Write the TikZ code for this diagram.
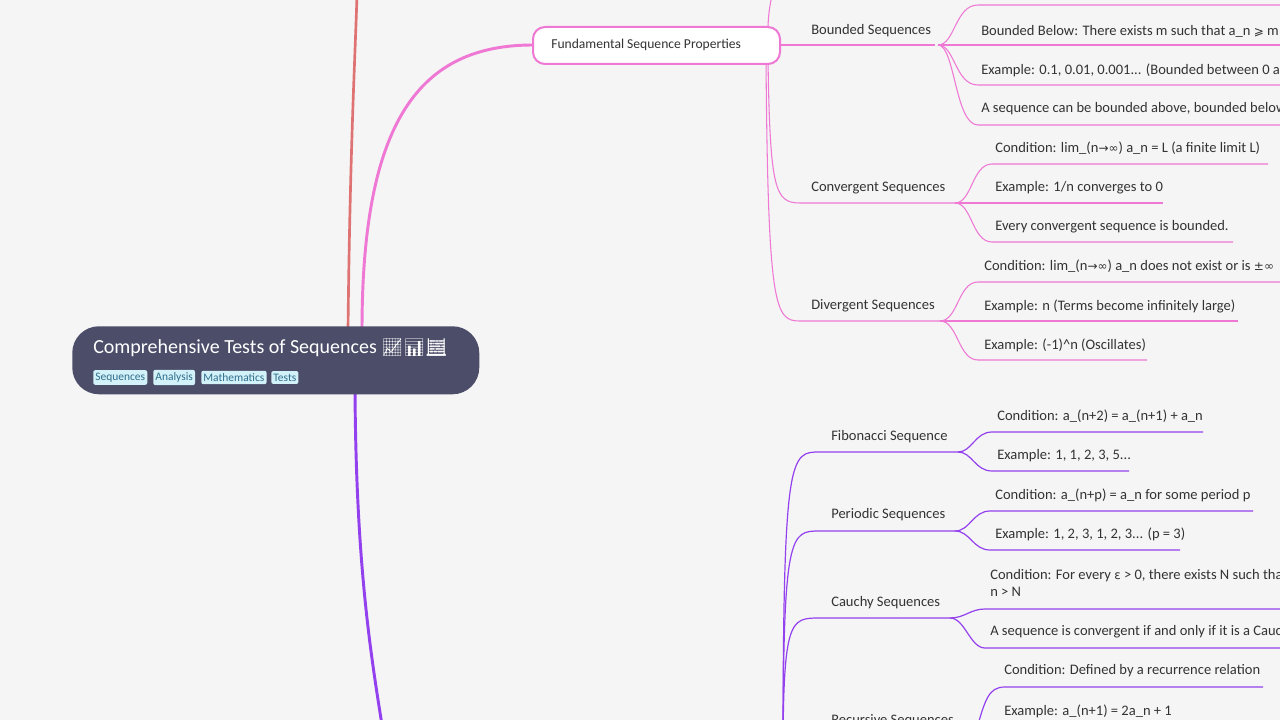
\documentclass[tikz,border=0pt]{standalone}
\usepackage{fontspec}
\setmainfont{Carlito}
\newfontfamily\symf{DejaVu Sans}
\newfontfamily\emo{Noto Emoji}
\definecolor{bg}{HTML}{F5F5F5}
\definecolor{pk}{HTML}{EE78D4}
\definecolor{pu}{HTML}{9340EE}
\definecolor{rd}{HTML}{DF7272}
\definecolor{rootc}{HTML}{4B4D69}
\definecolor{txt}{HTML}{333333}
\definecolor{tagf}{HTML}{D3F1F9}
\definecolor{tagt}{HTML}{2F6F8C}
\newcommand{\sy}[1]{{\symf\small #1}}
\tikzset{x=0.75pt,y=-0.75pt,
 lab/.style={anchor=west,inner sep=0pt,text=txt,font=\fontsize{10.9}{13}\selectfont},
 tag/.style={anchor=west,fill=tagf,text=tagt,rounded corners=1.5pt,inner xsep=1.6pt,inner ysep=2pt,font=\fontsize{8.6}{9}\selectfont},
 pl/.style={pk,line width=0.8pt},
 ul/.style={pu,line width=0.9pt}}
\begin{document}
\begin{tikzpicture}
\useasboundingbox (0,0) rectangle (1280,720);
\fill[bg] (0,0) rectangle (1280,720);
\clip (0,0) rectangle (1280,720);
% main branches
\draw[rd,line width=2pt] (348,330) .. controls (350,150) and (355,60) .. (357,-5);
\draw[pk,line width=2.2pt] (362,330) .. controls (362,120) and (420,45) .. (533,45);
\draw[pu,line width=2.2pt] (355,390) .. controls (356,560) and (370,650) .. (382,725);
% root
\node[draw=none,fill=rootc,rounded corners=20pt,minimum width=407*0.75pt,minimum height=68*0.75pt,anchor=north west,inner sep=0pt] (root) at (72,326) {};
\node[anchor=west,text=white,inner sep=0pt,font=\fontsize{15}{17}\selectfont] (title) at (93,348) {Comprehensive Tests of Sequences {\emo\fontsize{13}{15}\selectfont 📈📊🧮}};
\node[tag] (t1) at (93,377.5) {Sequences};
\node[tag] (t2) at (153,377.5) {Analysis};
\node[tag] (t3) at (201,377.5) {Mathematics};
\node[tag] (t4) at (271,377.5) {Tests};
% Fundamental
\draw[pl] (768,64) -- (768,30) .. controls (768,15) and (770,5) .. (772,-5);
\draw[pl] (768,60) .. controls (770,190) and (775,203) .. (800,203) -- (955,203);
\draw[pl] (766,60) .. controls (768,310) and (775,321) .. (800,321) -- (940,321);
\draw[pl] (780,45) -- (935,45);
\node[draw=pk,line width=1.5pt,fill=white,rounded corners=9pt,minimum width=247*0.75pt,minimum height=37*0.75pt,inner sep=0pt] (fund) at (656.5,45.5) {};
\node[lab,font=\fontsize{10.2}{12}\selectfont] (fundt) at (551,45) {Fundamental Sequence Properties};
\node[lab] (bs) at (811,31) {Bounded Sequences};
\node[lab] (cs) at (811,188) {Convergent Sequences};
\node[lab] (ds) at (811,306) {Divergent Sequences};
% bounded children
\foreach \y in {5,45,85,125}{\draw[pl] (938,45) .. controls (955,45) and (955,\y) .. (978,\y) -- (1285,\y);}
\node[lab] (b1) at (981,31) {Bounded Below: There exists m such that a\_n \sy{⩾} m};
\node[lab] (b2) at (981,70) {Example: 0.1, 0.01, 0.001... (Bounded between 0 and 1)};
\node[lab] (b3) at (981,109) {A sequence can be bounded above, bounded below, or both.};
% convergent children
\draw[pl] (955,203) .. controls (972,203) and (972,164) .. (992,164) -- (1268,164);
\draw[pl] (955,203) -- (1163,203);
\draw[pl] (955,203) .. controls (972,203) and (972,242) .. (992,242) -- (1233,242);
\node[lab] (c1) at (995,148) {Condition: lim\_(n\sy{→}\sy{∞}) a\_n = L (a finite limit L)};
\node[lab] (c2) at (995,188) {Example: 1/n converges to 0};
\node[lab] (c3) at (995,227) {Every convergent sequence is bounded.};
% divergent children
\draw[pl] (940,321) .. controls (958,321) and (958,282) .. (978,282) -- (1285,282);
\draw[pl] (940,321) -- (1238,321);
\draw[pl] (940,321) .. controls (958,321) and (958,360) .. (978,360) -- (1147,360);
\node[lab] (d1) at (984,266) {Condition: lim\_(n\sy{→}\sy{∞}) a\_n does not exist or is \sy{±∞}};
\node[lab] (d2) at (984,306) {Example: n (Terms become infinitely large)};
\node[lab] (d3) at (984,345) {Example: (-1)\^{}n (Oscillates)};
% purple trunk
\foreach \y/\e in {452/958,531/955,618/950,735/975}{
 \draw[ul] (783,760) .. controls (783,\y) and (790,\y) .. (820,\y) -- (\e,\y);}
\node[lab] (fs) at (831,437) {Fibonacci Sequence};
\node[lab] (ps) at (831,515) {Periodic Sequences};
\node[lab] (cy) at (831,603) {Cauchy Sequences};
\node[lab] (rs) at (831,721) {Recursive Sequences};
% fibonacci
\draw[ul] (958,452) .. controls (972,452) and (975,432) .. (992,432) -- (1203,432);
\draw[ul] (958,452) .. controls (972,452) and (975,471) .. (992,471) -- (1129,471);
\node[lab] (f1) at (997,416) {Condition: a\_(n+2) = a\_(n+1) + a\_n};
\node[lab] (f2) at (997,456) {Example: 1, 1, 2, 3, 5...};
% periodic
\draw[ul] (955,531) .. controls (970,531) and (973,511) .. (990,511) -- (1253,511);
\draw[ul] (955,531) .. controls (970,531) and (973,550) .. (990,550) -- (1180,550);
\node[lab] (p1) at (995,495) {Condition: a\_(n+p) = a\_n for some period p};
\node[lab] (p2) at (995,534) {Example: 1, 2, 3, 1, 2, 3... (p = 3)};
% cauchy
\draw[ul] (950,618) .. controls (965,618) and (970,609) .. (985,609) -- (1285,609);
\draw[ul] (950,618) .. controls (965,618) and (970,648) .. (985,648) -- (1285,648);
\node[lab,align=left] (q1) at (990,583) {Condition: For every \sy{ε} > 0, there exists N such that |a\_m − a\_n| < \sy{ε} for all m,\\n > N};
\node[lab] (q2) at (990,632) {A sequence is convergent if and only if it is a Cauchy sequence.};
% recursive
\draw[ul] (975,735) .. controls (985,700) and (988,687) .. (1005,687) -- (1263,687);
\draw[ul] (975,735) .. controls (985,730) and (988,727) .. (1005,727) -- (1190,727);
\node[lab] (r1) at (1004,671) {Condition: Defined by a recurrence relation};
\node[lab] (r2) at (1004,711) {Example: a\_(n+1) = 2a\_n + 1};
\end{tikzpicture}
\end{document}
